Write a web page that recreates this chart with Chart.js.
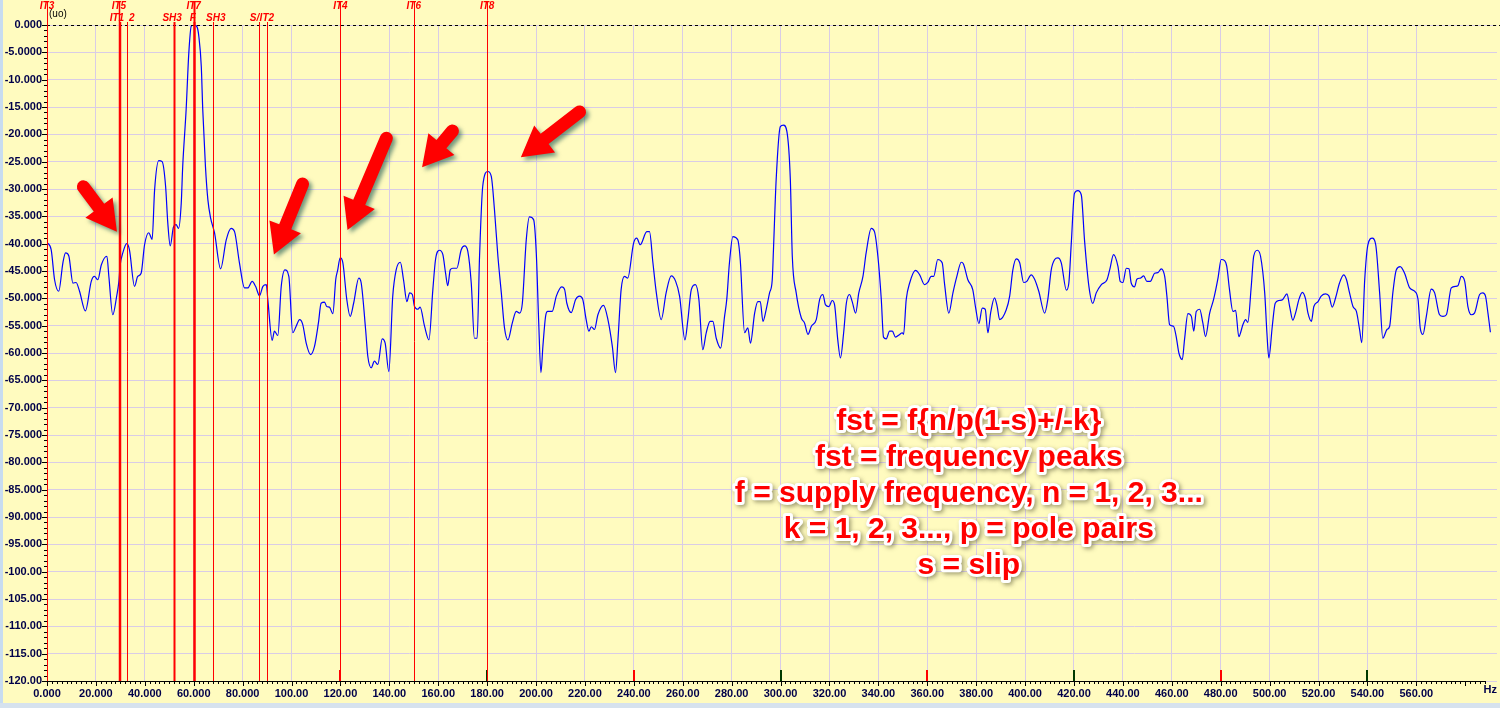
<!DOCTYPE html>
<html>
<head>
<meta charset="utf-8">
<title>Spectrum</title>
<script src="https://cdn.jsdelivr.net/npm/chart.js@4.4.0/dist/chart.umd.min.js"></script>
<style>
  html, body { margin: 0; padding: 0; background: #fffbbf; overflow: hidden; }
</style>
</head>
<body>
<canvas id="spectrum-chart" width="1500" height="708"></canvas>
<script>
// spectrum: frequency (Hz) and level (dB)
const freqHz = [
  0, 1.7, 3.1, 4.8, 6.5, 7.6, 8.9, 10.6, 11.9, 13.3,
  15.7, 18.1, 19.4, 20.8, 22.2, 24.5, 25.3, 26.9, 28.5, 29.4,
  29.9, 31.0, 32.6, 33.7, 35.8, 37.1, 38.5, 39.9, 41.6, 43.0,
  44.0, 45.7, 47.1, 48.5, 49.4, 50.4, 51.7, 52.8, 53.8, 54.9,
  55.5, 56.9, 58.0, 59.0, 60.1, 61.3, 62.1, 63.1, 63.7, 64.8,
  65.8, 66.9, 68.5, 71.0, 73.3, 75.3, 76.7, 78.7, 80.8, 82.1,
  83.9, 85.3, 86.9, 88.3, 89.7, 90.3, 92.1, 93.0, 94.4, 95.8,
  97.3, 98.9, 100.5, 101.9, 103.3, 104.6, 106.0, 107.8, 109.4, 111.0,
  112.1, 113.5, 114.4, 115.5, 116.9, 118.1, 118.9, 119.9, 121.0, 122.6,
  124.0, 125.4, 127.5, 128.5, 130.3, 131.2, 132.6, 133.9, 135.3, 137.1,
  138.3, 139.8, 141.4, 142.8, 144.5, 145.8, 147.2, 148.3, 149.4, 150.3,
  151.7, 152.6, 154.4, 156.2, 157.8, 158.9, 160.5, 161.9, 163.0, 163.9,
  164.9, 166.0, 167.6, 169.4, 170.8, 172.1, 173.5, 174.8, 175.9, 176.9,
  178.2, 180.3, 181.7, 183.0, 184.4, 185.8, 187.1, 188.5, 190.3, 191.9,
  193.3, 194.4, 196.0, 197.3, 199.0, 200.1, 201.1, 202.0, 202.8, 203.9,
  204.8, 206.6, 208.3, 210.5, 211.7, 212.6, 214.4, 216.2, 217.8, 219.1,
  220.5, 221.6, 222.6, 223.9, 225.3, 227.6, 229.4, 231.2, 232.5, 233.5,
  234.8, 236.2, 237.5, 239.9, 241.2, 242.6, 245.3, 246.4, 247.8, 249.2,
  251.2, 253.2, 255.3, 257.1, 258.7, 260.9, 262.1, 263.5, 265.2, 266.6,
  268.2, 269.6, 271.2, 272.3, 273.7, 275.5, 277.1, 278.0, 279.1, 280.5,
  282.5, 283.5, 285.3, 286.6, 287.7, 289.4, 290.7, 291.7, 292.8, 294.1,
  295.5, 296.6, 297.1, 298.2, 299.9, 301.2, 302.6, 304.0, 304.8, 306.4,
  308.5, 309.8, 311.2, 312.6, 314.6, 316.0, 317.3, 318.4, 319.8, 321.1,
  322.1, 323.4, 324.5, 325.8, 326.9, 328.2, 329.3, 330.7, 332.0, 333.7,
  335.0, 337.1, 338.4, 339.8, 341.2, 342.1, 343.2, 344.6, 345.7, 347.0,
  348.7, 349.8, 350.3, 351.4, 352.8, 355.2, 356.9, 358.9, 360.2, 361.6,
  362.6, 364.3, 366.1, 367.1, 368.8, 370.5, 372.1, 373.9, 374.8, 376.6,
  378.6, 379.8, 381.1, 382.5, 383.7, 384.8, 385.9, 387.5, 388.6, 389.6,
  392.3, 393.7, 395.0, 396.4, 397.8, 399.4, 400.7, 402.5, 403.9, 405.6,
  408.0, 409.3, 410.7, 412.1, 413.4, 414.8, 416.9, 417.9, 418.9, 420.2,
  421.6, 423.0, 424.3, 426.1, 427.7, 429.1, 431.2, 433.5, 434.6, 436.2,
  438.0, 438.9, 440.0, 441.4, 442.5, 443.4, 444.8, 445.7, 447.2, 448.5,
  449.8, 451.2, 453.0, 454.3, 455.7, 457.1, 458.0, 459.1, 460.7, 461.8,
  462.9, 464.3, 465.2, 466.6, 468.0, 469.0, 470.0, 471.4, 472.7, 473.8,
  475.5, 477.1, 478.9, 480.2, 481.6, 482.5, 483.6, 485.0, 486.1, 487.4,
  489.1, 490.2, 491.1, 492.5, 493.5, 495.0, 496.3, 498.0, 498.9, 499.7,
  501.1, 502.3, 503.8, 505.4, 507.1, 508.2, 509.5, 510.6, 512.0, 513.4,
  514.7, 515.7, 517.1, 518.1, 519.8, 521.1, 522.9, 524.3, 525.6, 527.0,
  528.6, 530.3, 531.4, 532.7, 534.1, 535.5, 536.8, 537.7, 538.9, 540.2,
  542.0, 543.4, 545.0, 546.3, 548.0, 549.1, 550.4, 551.8, 553.4, 555.2,
  557.3, 559.3, 560.7, 561.6, 562.7, 564.1, 566.1, 567.5, 569.5, 570.9,
  572.3, 574.3, 576.1, 577.0, 578.4, 579.8, 581.1, 582.5, 583.8, 585.9,
  587.2, 588.3, 589.3, 590.3
];
const levelDb = [
  -39.8, -41.1, -46.6, -48.7, -43.5, -41.7, -42.2, -47.2, -47.1, -48.7,
  -52.3, -46.9, -46.0, -46.6, -43.9, -42.3, -46.0, -53.0, -49.6, -46.9,
  -44.0, -41.7, -40.0, -41.1, -47.8, -46.0, -45.4, -40.2, -38.0, -39.2,
  -30.2, -24.8, -25.0, -29.5, -36.2, -40.4, -37.0, -36.5, -37.2, -32.6,
  -25.9, -15.5, -5.1, -0.2, 0.0, -0.3, -2.1, -7.6, -15.5, -25.9,
  -32.0, -35.3, -38.0, -44.6, -39.3, -37.2, -37.8, -43.5, -48.1, -48.1,
  -46.9, -47.8, -49.5, -47.8, -47.5, -50.2, -57.7, -56.0, -56.8, -47.8,
  -44.8, -46.0, -56.3, -55.1, -53.9, -54.8, -58.2, -60.3, -58.8, -54.5,
  -50.9, -50.7, -51.5, -51.6, -52.8, -46.5, -44.8, -42.6, -43.5, -50.2,
  -53.3, -50.9, -46.3, -47.2, -55.7, -60.6, -62.7, -61.5, -62.1, -57.4,
  -58.2, -63.4, -49.6, -44.8, -43.4, -46.6, -50.6, -49.0, -49.3, -51.5,
  -52.0, -51.6, -55.1, -57.6, -48.4, -42.9, -41.2, -42.0, -45.4, -47.7,
  -44.8, -44.5, -44.5, -41.1, -40.4, -41.4, -47.2, -57.3, -57.3, -42.3,
  -29.5, -26.8, -27.7, -33.8, -42.3, -49.0, -55.4, -57.6, -54.5, -52.4,
  -52.7, -50.9, -39.3, -35.1, -35.6, -41.7, -54.5, -63.6, -58.8, -53.3,
  -52.4, -52.4, -49.6, -47.9, -48.4, -50.9, -52.6, -50.2, -49.6, -50.2,
  -53.9, -56.0, -55.2, -55.7, -53.0, -51.3, -53.9, -58.8, -63.6, -57.6,
  -48.4, -46.0, -46.3, -39.9, -39.0, -40.2, -37.8, -37.8, -43.5, -49.0,
  -53.9, -49.0, -45.9, -46.9, -49.6, -57.6, -53.9, -48.4, -47.5, -50.2,
  -59.4, -56.3, -54.2, -54.2, -57.3, -59.1, -53.3, -50.2, -43.5, -38.7,
  -39.3, -42.9, -56.3, -55.4, -58.2, -52.7, -50.6, -50.6, -54.2, -52.1,
  -49.0, -46.6, -41.1, -28.3, -18.6, -18.3, -19.5, -28.3, -42.3, -49.0,
  -53.6, -54.5, -56.6, -55.1, -53.9, -50.2, -49.3, -51.2, -51.5, -50.4,
  -51.2, -57.6, -60.9, -56.3, -50.9, -49.3, -50.6, -52.7, -49.0, -46.0,
  -41.7, -37.2, -37.8, -42.3, -50.2, -57.1, -57.4, -56.0, -56.0, -57.1,
  -56.6, -56.3, -56.6, -50.2, -47.2, -44.9, -45.7, -47.5, -47.1, -46.0,
  -46.0, -42.9, -43.5, -47.5, -52.7, -49.0, -46.0, -43.4, -43.7, -46.6,
  -48.4, -51.8, -54.6, -51.8, -52.0, -56.3, -52.7, -49.9, -51.5, -53.9,
  -52.1, -49.6, -44.8, -42.8, -43.5, -47.1, -46.9, -45.7, -46.5, -48.7,
  -52.7, -50.2, -44.8, -42.9, -42.6, -43.5, -48.5, -47.2, -39.9, -30.8,
  -30.3, -31.1, -39.3, -47.8, -50.9, -49.0, -47.5, -46.6, -44.8, -42.0,
  -44.2, -46.9, -47.1, -44.5, -44.6, -47.2, -47.9, -46.5, -46.3, -45.9,
  -46.9, -46.9, -45.4, -45.3, -44.6, -46.0, -49.6, -54.8, -55.1, -57.0,
  -60.0, -61.2, -57.6, -52.8, -53.3, -56.0, -52.4, -52.0, -54.5, -57.0,
  -52.7, -50.2, -46.3, -42.9, -43.1, -44.2, -48.4, -52.4, -52.2, -57.0,
  -54.8, -53.9, -54.4, -47.8, -42.3, -41.2, -42.3, -49.0, -56.3, -60.9,
  -55.1, -50.9, -50.4, -50.2, -49.2, -51.5, -54.0, -52.7, -50.2, -48.9,
  -50.1, -52.7, -54.2, -51.5, -50.6, -49.6, -49.2, -49.6, -51.6, -49.9,
  -47.2, -45.7, -46.5, -49.0, -51.5, -52.4, -55.7, -58.1, -46.6, -40.2,
  -39.0, -40.2, -49.0, -57.3, -55.7, -55.1, -49.0, -44.8, -44.2, -45.4,
  -48.1, -48.7, -50.2, -55.4, -56.6, -53.3, -48.3, -49.0, -53.0, -53.3,
  -53.0, -48.1, -47.8, -47.7, -46.0, -46.9, -51.5, -53.0, -52.7, -49.3,
  -49.0, -49.6, -52.7, -56.2
];

// axis ticks and their labels as printed
const xTickValues = [0, 20, 40, 60, 80, 100, 120, 140, 160, 180, 200, 220, 240, 260, 280,
  300, 320, 340, 360, 380, 400, 420, 440, 460, 480, 500, 520, 540, 560];
const xTickLabels = ['0.000', '20.000', '40.000', '60.000', '80.000', '100.00', '120.00', '140.00',
  '160.00', '180.00', '200.00', '220.00', '240.00', '260.00', '280.00', '300.00', '320.00', '340.00',
  '360.00', '380.00', '400.00', '420.00', '440.00', '460.00', '480.00', '500.00', '520.00', '540.00', '560.00'];
const yTickValues = [0, -5, -10, -15, -20, -25, -30, -35, -40, -45, -50, -55, -60, -65, -70, -75,
  -80, -85, -90, -95, -100, -105, -110, -115, -120];
const yTickLabels = ['0.000', '-5.0000', '-10.000', '-15.000', '-20.000', '-25.000', '-30.000',
  '-35.000', '-40.000', '-45.000', '-50.000', '-55.000', '-60.000', '-65.000', '-70.000', '-75.000',
  '-80.000', '-85.000', '-90.000', '-95.000', '-100.00', '-105.00', '-110.00', '-115.00', '-120.00'];

// cursors (vertical red lines) with their tags, row 1 = top row of tags
const cursorHz = [0, 29.4, 29.8, 32.6, 52.0, 60, 60, 67.8, 86.9, 89.9, 120, 150, 180];
const cursorLabels = ['IT3', 'IT5', 'IT1', '2', 'SH3', 'IT7', 'F', 'SH3', 'S/', 'IT2', 'IT4', 'IT6', 'IT8'];
const cursorRow = [1, 1, 2, 2, 2, 1, 2, 2, 2, 2, 1, 1, 1];

// harmonic markers on the frequency axis
const harmonicHz = [120, 180, 240, 300, 360, 420, 480, 540];

// annotation
const noteLines = ['fst = f{n/p(1-s)+/-k}', 'fst = frequency peaks',
  'f = supply frequency, n = 1, 2, 3...', 'k = 1, 2, 3..., p = pole pairs', 's = slip'];
const noteHz = 377;
const noteDb = [-74.1, -80.7, -87.2, -93.8, -100.4];

// arrows: [tail Hz, tail dB, tip Hz, tip dB]
const arrows = [
  [14.9, -29.6, 28.6, -37.8],
  [104.5, -29.1, 92.8, -42.0],
  [138.8, -20.7, 122.9, -37.5],
  [165.8, -19.4, 153.4, -26.0],
  [217.8, -15.9, 193.8, -24.2]
];

// drawing styles
const cursorWidth = [1, 1.5, 1.5, 1, 2, 2, 2, 1, 1, 1, 1, 1, 1];
const cursorTagShift = [0, 0, -3, 5, -2, 0, -1, 3, -5, 0, 0, 0, 0];
const labelFont = 'bold 11px "Liberation Sans", Arial, sans-serif';
const labelColor = '#00004a';

function drawArrow(ctx, tx, ty, px, py) {
    const dx = px - tx, dy = py - ty;
    const len = Math.hypot(dx, dy);
    const ux = dx / len, uy = dy / len;
    const nx = -uy, ny = ux;
    const hw = 6.5, hh = 17, hl = 30;
    const bx = px - ux * hl, by = py - uy * hl;
    const th = Math.atan2(uy, ux);
    ctx.beginPath();
    ctx.moveTo(tx + nx * hw, ty + ny * hw);
    ctx.lineTo(bx + nx * hw, by + ny * hw);
    ctx.lineTo(bx + nx * hh, by + ny * hh);
    ctx.lineTo(px, py);
    ctx.lineTo(bx - nx * hh, by - ny * hh);
    ctx.lineTo(bx - nx * hw, by - ny * hw);
    ctx.lineTo(tx - nx * hw, ty - ny * hw);
    ctx.arc(tx, ty, hw, th - Math.PI / 2, th + Math.PI / 2, true);
    ctx.closePath();
    ctx.fill();
}

const decor = {
    id: 'decor',
    beforeDraw(chart) {
        const ctx = chart.ctx;
        ctx.save();
        ctx.fillStyle = '#fffbbf';
        ctx.fillRect(0, 0, chart.width, chart.height);
        ctx.fillStyle = '#c8dcf0';
        ctx.fillRect(0, 0, 3, chart.height);
        ctx.fillStyle = '#d6e2ee';
        ctx.fillRect(0, 703, chart.width, 5);
        ctx.restore();
    },
    afterDatasetsDraw(chart) {
        const ctx = chart.ctx;
        const xs = chart.scales.x, ys = chart.scales.y;
        const area = chart.chartArea;
        ctx.save();

        // zero reference line
        ctx.strokeStyle = '#000000';
        ctx.lineWidth = 1;
        ctx.setLineDash([3, 3]);
        ctx.beginPath();
        ctx.moveTo(area.left, ys.getPixelForValue(0) + 0.5);
        ctx.lineTo(chart.width, ys.getPixelForValue(0) + 0.5);
        ctx.stroke();
        ctx.setLineDash([]);

        // axis lines and minor ticks
        const axisEnd = xs.getPixelForValue(588.5);
        ctx.beginPath();
        ctx.moveTo(area.left, area.bottom + 0.5);
        ctx.lineTo(axisEnd, area.bottom + 0.5);
        for (let v = 0; v <= 588; v += 2) {
            const x = Math.round(xs.getPixelForValue(v)) + 0.5;
            ctx.moveTo(x, area.bottom);
            ctx.lineTo(x, area.bottom + (v % 20 === 0 ? 5 : 3));
        }
        for (let v = -120; v <= 0; v += 1) {
            const y = Math.round(ys.getPixelForValue(v)) + 0.5;
            ctx.moveTo(area.left, y);
            ctx.lineTo(area.left - (v % 5 === 0 ? 5 : 3), y);
        }
        ctx.stroke();

        // harmonic markers
        harmonicHz.forEach(h => {
            const x = Math.round(xs.getPixelForValue(h));
            ctx.fillStyle = (h % 120 === 0) ? '#ff0000' : '#003a00';
            ctx.fillRect(x - 1, area.bottom - 11, 2, 11);
        });

        // cursors
        cursorHz.forEach((h, i) => {
            const x = Math.round(xs.getPixelForValue(h)) + 0.5;
            const top = cursorRow[i] === 1 ? 2 : 22;
            ctx.strokeStyle = '#ff0000';
            ctx.lineWidth = cursorWidth[i];
            ctx.beginPath();
            ctx.moveTo(x, top);
            ctx.lineTo(x, area.bottom);
            ctx.stroke();
        });
        ctx.font = 'italic bold 10px "Liberation Sans", Arial, sans-serif';
        ctx.textAlign = 'center';
        ctx.textBaseline = 'middle';
        ctx.fillStyle = '#ff0000';
        cursorHz.forEach((h, i) => {
            const x = xs.getPixelForValue(h) + cursorTagShift[i];
            ctx.fillText(cursorLabels[i], x, cursorRow[i] === 1 ? 6 : 18);
        });

        // unit labels
        ctx.fillStyle = '#000000';
        ctx.font = '10px "Liberation Sans", Arial, sans-serif';
        ctx.textAlign = 'left';
        ctx.fillText('(uo)', area.left + 2, 14);
        ctx.font = labelFont;
        ctx.fillStyle = labelColor;
        ctx.textAlign = 'right';
        ctx.fillText('Hz', chart.width - 3, 690);
        ctx.restore();
    },
    afterDraw(chart) {
        const ctx = chart.ctx;
        const xs = chart.scales.x, ys = chart.scales.y;
        ctx.save();

        // arrows
        ctx.fillStyle = '#ff0000';
        ctx.shadowColor = 'rgba(0, 70, 70, 0.55)';
        ctx.shadowBlur = 4;
        ctx.shadowOffsetX = 3;
        ctx.shadowOffsetY = 3;
        arrows.forEach(a => {
            drawArrow(ctx, xs.getPixelForValue(a[0]), ys.getPixelForValue(a[1]),
                xs.getPixelForValue(a[2]), ys.getPixelForValue(a[3]));
        });
        ctx.restore();

        // formula text
        ctx.save();
        ctx.font = 'bold 30px "Liberation Sans", Arial, sans-serif';
        ctx.textAlign = 'center';
        ctx.textBaseline = 'alphabetic';
        ctx.lineJoin = 'round';
        noteLines.forEach((t, i) => {
            const x = xs.getPixelForValue(noteHz), y = ys.getPixelForValue(noteDb[i]);
            ctx.save();
            ctx.shadowColor = 'rgba(70, 70, 40, 0.5)';
            ctx.shadowBlur = 4;
            ctx.shadowOffsetX = 2;
            ctx.shadowOffsetY = 2;
            ctx.strokeStyle = '#ffffff';
            ctx.lineWidth = 6;
            ctx.strokeText(t, x, y);
            ctx.restore();
            ctx.fillStyle = '#ff0000';
            ctx.fillText(t, x, y);
        });
        ctx.restore();
    }
};

const points = freqHz.map((f, i) => ({ x: f, y: levelDb[i] }));

const config = {
    type: 'line',
    data: {
        datasets: [{
            label: 'Spectrum',
            data: points,
            borderColor: '#0000ff',
            borderWidth: 1.2,
            pointRadius: 0,
            cubicInterpolationMode: 'monotone',
            fill: false
        }]
    },
    plugins: [decor],
    options: {
        responsive: false,
        animation: false,
        devicePixelRatio: 1,
        layout: { padding: { top: 25, right: 3, left: 0, bottom: 0 } },
        scales: {
            x: {
                type: 'linear',
                min: 0,
                max: 593,
                afterBuildTicks: scale => { scale.ticks = xTickValues.map(v => ({ value: v })); },
                afterFit: scale => { scale.height = 27; },
                ticks: {
                    autoSkip: false,
                    maxRotation: 0,
                    padding: 6,
                    color: labelColor,
                    font: { family: '"Liberation Sans", Arial, sans-serif', size: 11, weight: 'bold' },
                    callback: (v, i) => xTickLabels[i]
                },
                grid: { color: '#d9cce6', drawTicks: false },
                border: { display: false }
            },
            y: {
                min: -120,
                max: 0,
                afterBuildTicks: scale => { scale.ticks = yTickValues.map(v => ({ value: v })); },
                afterFit: scale => { scale.width = 47; },
                ticks: {
                    autoSkip: false,
                    padding: 5,
                    color: labelColor,
                    font: { family: '"Liberation Sans", Arial, sans-serif', size: 11, weight: 'bold' },
                    callback: (v, i) => yTickLabels[i]
                },
                grid: { color: '#d9cce6', drawTicks: false },
                border: { display: false }
            }
        },
        plugins: {
            legend: { display: false },
            tooltip: { enabled: false }
        }
    }
};

const context = document.getElementById('spectrum-chart').getContext('2d');
new Chart(context, config);
</script>
</body>
</html>
